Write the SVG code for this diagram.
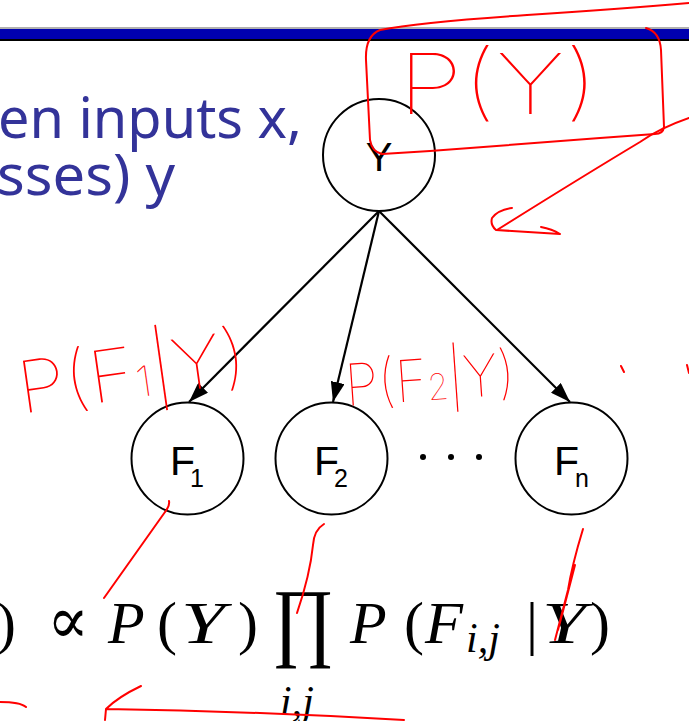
<svg xmlns="http://www.w3.org/2000/svg" width="689" height="721" viewBox="0 0 689 721">
<style>
.node{fill:#fff;stroke:#000;stroke-width:2}
.lbl{font-family:"Liberation Sans",Arial,sans-serif;fill:#000}
.slide{font-family:"Noto Sans","Open Sans",sans-serif;font-size:56px;fill:#333399}
.edge{stroke:#000;stroke-width:2.2;fill:none}
.math{font-family:"Liberation Serif","DejaVu Serif",serif;fill:#000}
.it{font-style:italic}
.ink{fill:none;stroke:#ff0000;stroke-width:2;stroke-linecap:round;stroke-linejoin:round}
.hand{font-family:Inter,"Noto Sans",sans-serif;font-weight:100;fill:#ff0000}
</style>
<defs>
<marker id="ah" viewBox="0 0 20 14" refX="20" refY="7" markerWidth="20" markerHeight="14" markerUnits="userSpaceOnUse" orient="auto">
<path d="M0,0 L20,7 L0,14 Z" fill="#000"/>
</marker>
</defs>
<rect width="689" height="721" fill="#fff"/>
<!-- title bar -->
<rect x="0" y="27" width="689" height="2" fill="#b0b0b0"/>
<rect x="0" y="29" width="689" height="10" fill="#0000b0"/>
<rect x="0" y="39" width="689" height="2" fill="#000"/>
<!-- slide text -->
<text class="slide" x="-2" y="138" textLength="304" lengthAdjust="spacingAndGlyphs">en inputs x,</text>
<text class="slide" x="-3" y="195" textLength="178" lengthAdjust="spacingAndGlyphs">sses) y</text>
<!-- connectors -->
<g id="connectors">
<line class="edge" x1="379" y1="211" x2="189" y2="402" marker-end="url(#ah)"/>
<line class="edge" x1="379" y1="211" x2="333" y2="402" marker-end="url(#ah)"/>
<line class="edge" x1="379" y1="211" x2="570" y2="402" marker-end="url(#ah)"/>
</g>
<!-- nodes -->
<g id="node-Y">
<circle class="node" cx="379" cy="155" r="56"/>
<text class="lbl" x="379" y="171" font-size="40" text-anchor="middle">Y</text>
</g>
<g id="node-F1">
<circle class="node" cx="187.5" cy="458.5" r="56"/>
<text class="lbl" x="170" y="475" font-size="41">F<tspan x="190" y="487" font-size="25">1</tspan></text>
</g>
<g id="node-F2">
<circle class="node" cx="331.5" cy="458.5" r="56"/>
<text class="lbl" x="314" y="475" font-size="41">F<tspan x="334" y="487" font-size="25">2</tspan></text>
</g>
<g id="node-dots">
<circle cx="423" cy="457" r="3" fill="#000"/>
<circle cx="451" cy="457" r="3" fill="#000"/>
<circle cx="479" cy="457" r="3" fill="#000"/>
</g>
<g id="node-Fn">
<circle class="node" cx="571.5" cy="458.5" r="56"/>
<text class="lbl" x="554" y="475" font-size="41">F<tspan x="575" y="487" font-size="25">n</tspan></text>
</g>
<!-- formula -->
<g id="formula" class="math" font-size="60">
<text x="-4" y="643">)</text>
<text x="47" y="643" font-size="66" textLength="42" lengthAdjust="spacingAndGlyphs">∝</text>
<text class="it" x="108" y="643">P</text>
<text x="157" y="643">(</text>
<text class="it" x="181" y="643" textLength="44" lengthAdjust="spacingAndGlyphs">Y</text>
<text x="238" y="643">)</text>
<text x="272" y="650" font-size="88" textLength="62" lengthAdjust="spacingAndGlyphs">∏</text>
<text class="it" x="280" y="715" font-size="42">i,j</text>
<text class="it" x="350" y="643">P</text>
<text x="404" y="643">(</text>
<text class="it" x="425" y="643" textLength="38" lengthAdjust="spacingAndGlyphs">F</text>
<text class="it" x="466" y="652" font-size="42">i,j</text>
<text x="526" y="643">|</text>
<text class="it" x="542" y="643" textLength="44" lengthAdjust="spacingAndGlyphs">Y</text>
<text x="590" y="643">)</text>
</g>
<!-- red handwriting -->
<g id="annotations">
<path class="ink" d="M646,28 Q660,32 661,50 L664,127 Q663,134 655,134 L600,138 Q500,146 430,151 L382,154 Q372,152 370,140 L366,60 Q365,36 380,30 Q420,22 527,15 Q620,9 689,3"/>
<text class="hand" x="398" y="114" font-size="84" textLength="200" lengthAdjust="spacingAndGlyphs">P(Y)</text>
<path class="ink" d="M689,118 Q660,128 640,142 Q580,178 497,230"/>
<path class="ink" d="M512,208 Q498,210 492,218 Q490,225 496,230 Q530,232 560,234 M541,227 Q552,229 560,234"/>
<g transform="rotate(-8 130 360)">
<text class="hand" x="15" y="398" font-size="72" textLength="230" lengthAdjust="spacingAndGlyphs">P(F<tspan font-size="42">1</tspan>|Y)</text>
</g>
<g transform="rotate(-4 430 380)">
<text class="hand" x="345" y="400" font-size="58" textLength="170" lengthAdjust="spacingAndGlyphs">P(F<tspan font-size="36">2</tspan>|Y)</text>
</g>
<path class="ink" d="M621,366 L624,372 M687,365 L689,373"/>
<path class="ink" d="M169,501 Q170,506 165,512 L104,598"/>
<path class="ink" d="M324,524 Q314,530 313,545 Q310,575 297,613"/>
<path class="ink" d="M583,529 Q572,565 568,590 L555,640 M575,565 Q566,600 558,630"/>
<path class="ink" d="M0,702 Q20,702 26,707"/>
<path class="ink" d="M141,686 Q118,697 106,709 L105,720 M106,709 Q250,711 404,720"/>
</g>
</svg>
